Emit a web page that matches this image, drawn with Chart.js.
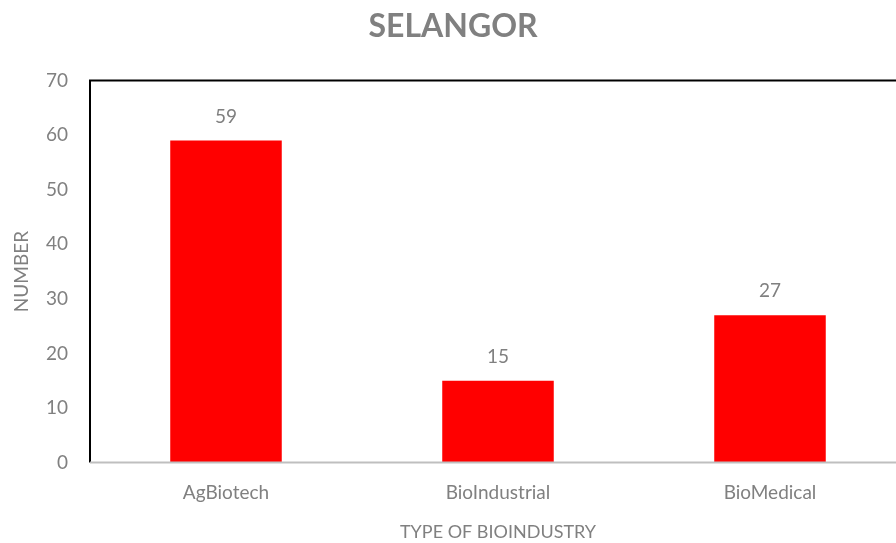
<!DOCTYPE html>
<html>
<head>
<meta charset="utf-8">
<script src="https://cdn.jsdelivr.net/npm/chart.js@4"></script>
<style>
  html, body { margin: 0; padding: 0; background: #fff; overflow: hidden; }
  #wrap { width: 906px; height: 543px; }
</style>
</head>
<body>
<div id="wrap"><canvas id="c" width="906" height="543"></canvas></div>
<script>
// data
const categories = ["AgBiotech", "BioIndustrial", "BioMedical"];
const counts = [59, 15, 27];
const yTicks = [0, 10, 20, 30, 40, 50, 60, 70];

const GREY = "#808080";
const FONT = "Lato, 'Open Sans', sans-serif";

// value labels above bars + plot frame
const extras = {
  id: "extras",
  afterDatasetsDraw(chart) {
    const { ctx, chartArea: a } = chart;
    ctx.save();
    // frame (top, left, right) in black
    ctx.strokeStyle = "#000";
    ctx.lineWidth = 2;
    ctx.beginPath();
    ctx.moveTo(a.left, a.bottom);
    ctx.lineTo(a.left, a.top);
    ctx.lineTo(a.right, a.top);
    ctx.lineTo(a.right, a.bottom);
    ctx.stroke();
    // baseline grey
    ctx.strokeStyle = "#bfbfbf";
    ctx.beginPath();
    ctx.moveTo(a.left, a.bottom);
    ctx.lineTo(a.right, a.bottom);
    ctx.stroke();

    const meta = chart.getDatasetMeta(0);
    ctx.fillStyle = GREY;
    ctx.font = "19px " + FONT;
    ctx.textAlign = "center";
    ctx.textBaseline = "middle";
    meta.data.forEach((bar, i) => {
      ctx.fillText(String(counts[i]), bar.x, bar.y - 24);
    });
    ctx.restore();
  }
};

new Chart(document.getElementById("c"), {
  type: "bar",
  data: {
    labels: categories,
    datasets: [{
      data: counts,
      backgroundColor: "#ff0000",
      borderWidth: 0,
      categoryPercentage: 1,
      barPercentage: 0.41
    }]
  },
  options: {
    responsive: false,
    animation: false,
    layout: { padding: { top: 0, right: 0, bottom: 0, left: 0 } },
    plugins: {
      legend: { display: false },
      tooltip: { enabled: false },
      title: {
        display: true,
        text: "SELANGOR",
        color: GREY,
        font: { family: FONT, size: 32, weight: "bold" },
        padding: { top: 7, bottom: 35 }
      }
    },
    scales: {
      x: {
        grid: { display: false, drawTicks: false },
        border: { display: false },
        ticks: { color: GREY, font: { family: FONT, size: 19 }, padding: 19 },
        title: {
          display: true,
          text: "TYPE OF BIOINDUSTRY",
          color: GREY,
          font: { family: FONT, size: 18 },
          padding: { top: -2, bottom: 0 }
        }
      },
      y: {
        min: 0,
        max: 70,
        afterBuildTicks: (s) => { s.ticks = yTicks.map(v => ({ value: v })); },
        grid: { display: false, drawTicks: false },
        border: { display: false },
        ticks: { color: GREY, font: { family: FONT, size: 19 }, padding: 22 },
        title: {
          display: true,
          text: "NUMBER",
          color: GREY,
          font: { family: FONT, size: 19 },
          padding: { top: 10, bottom: 8 }
        },
        afterFit: (s) => { s.width = 90; }
      }
    }
  },
  plugins: [extras]
});
</script>
</body>
</html>
